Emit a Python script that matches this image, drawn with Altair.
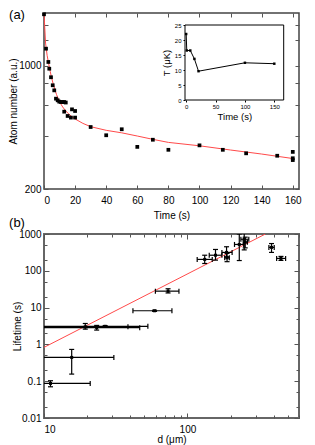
import altair as alt
import pandas as pd

FONT = "Liberation Sans"
FRAME = "#555555"
W = 255
H1 = 176
H2 = 184

# ---------------- (a) atom number vs time ----------------
time_s = [0, 1.3, 2.8, 3.4, 4.5, 5.6, 6.6, 7.7, 8.8, 9.8, 10.9, 12, 13, 14,
          13, 18, 20, 15.2, 17.3, 20, 30, 40, 50, 60, 70, 80, 100, 115, 130,
          150, 160, 160, 160]
atoms = [1967, 1254, 1054, 965, 863, 777, 727, 652, 638, 627, 624, 624, 624, 620,
         550, 567, 555, 520, 509, 509, 450, 404, 437, 347, 381, 334, 354, 334, 319,
         309, 325, 299, 292]

fit_t = [0, 1, 2, 3, 4, 5, 6, 8, 10, 12, 14, 16, 18, 20, 25, 30, 40, 50, 60,
         70, 80, 100, 120, 140, 160]
fit_n = [2000, 1350, 1150, 1030, 930, 850, 785, 690, 625, 585, 555, 533, 514,
         500, 472, 452, 431, 417, 400, 383, 368, 352, 333, 316, 298]

a_x_ticks = [0, 20, 40, 60, 80, 100, 120, 140, 160]
a_y_ticks = [200, 400, 600, 800, 1000, 1400, 1700]

# inset: temperature vs time
inset_t = [0, 1, 7, 14, 21, 100, 150]
inset_T = [22, 16.5, 16.5, 13.7, 9.6, 12.4, 12.1]
inset_x_dom = [-2, 166]
inset_y_dom = [0, 25]
inset_x_ticks = [0, 50, 100, 150]
inset_y_ticks = [0, 5, 10, 15, 20, 25]

# ---------------- (b) lifetime vs distance ----------------
d_um = [11.1, 15.6, 19.4, 23.3, 26.7, 59, 73.3, 132, 157, 187.5, 189, 230, 249, 253, 386, 449]
life_s = [0.087, 0.443, 3.0, 2.85, 3.1, 8.2, 28, 204, 265, 316, 226, 520, 720, 600, 433, 217]
d_lo = [1.2, 0.5, 0.3, 0.1, 0.4, 41.7, 59.8, 117, 142, 174, 182, 213, 236, 245, 370, 419]
d_hi = [21, 30.7, 38.5, 46.5, 53, 78, 87.3, 149, 174, 205, 196, 247, 268, 262, 403, 484]
life_lo = [0.0705, 0.156, 2.6, 2.45, 2.95, 7.9, 25, 158, 195, 240, 177, 190, 370, 420, 316, 192]
life_hi = [0.103, 0.73, 3.7, 3.28, 3.25, 8.5, 32.5, 265, 380, 450, 296, 1000, 1090, 820, 550, 246]

fit_d = [10, 350]
fit_life = [0.83, 1000]

b_x_ticks = [10, 20, 30, 40, 50, 60, 70, 80, 90, 100, 200, 300, 400, 500, 600]
b_y_ticks = [0.01, 0.02, 0.05, 0.1, 0.2, 0.5, 1, 2, 5, 10, 20, 50, 100, 200, 500, 1000]


def dash(length, span):
    return [length, span - 2 * length, length, 2000]


# ---------- panel (a) ----------
df_a = pd.DataFrame({"t": time_s, "n": atoms})
df_fit = pd.DataFrame({"t": fit_t, "n": fit_n})

ax_a_x = alt.Axis(title="Time (s)", values=a_x_ticks, format="d", grid=True,
                  gridDash=dash(4, H1), gridColor=FRAME, gridWidth=1, gridOpacity=1,
                  ticks=False, tickSize=0, domain=False, labelPadding=6, titlePadding=5)
ax_a_y = alt.Axis(title="Atom number (a.u.)", values=a_y_ticks, format="d",
                  labelExpr="datum.value == 200 || datum.value == 1000 ? datum.label : ''",
                  grid=True, gridDash=dash(4, W), gridColor=FRAME, gridWidth=1, gridOpacity=1,
                  ticks=False, tickSize=0, domain=False, labelPadding=3, titlePadding=0)
sx_a = alt.Scale(domain=[0, 164], nice=False, zero=False)
sy_a = alt.Scale(type="log", domain=[200, 2000], nice=False)

curve_a = alt.Chart(df_fit).mark_line(color="#ff4a4a", strokeWidth=1).encode(
    x=alt.X("t:Q", scale=sx_a, axis=ax_a_x),
    y=alt.Y("n:Q", scale=sy_a, axis=ax_a_y),
)
pts_a = alt.Chart(df_a).mark_square(color="black", size=14, opacity=1).encode(
    x=alt.X("t:Q", scale=sx_a, axis=ax_a_x),
    y=alt.Y("n:Q", scale=sy_a, axis=ax_a_y),
)
main_a = alt.layer(curve_a, pts_a)

# inset
sx_i = alt.Scale(domain=inset_x_dom, range=[141, 239.7], nice=False, zero=False)
sy_i = alt.Scale(domain=inset_y_dom, range=[87, 12], nice=False, zero=False)
ax_i_x = alt.Axis(orient="bottom", offset=-89, title="Time (s)", values=inset_x_ticks,
                  format="d", labelFontSize=6, titleFontSize=9.5, ticks=True, tickSize=2,
                  tickColor="black", grid=False, domain=False, labelPadding=1, titlePadding=2)
ax_i_y = alt.Axis(orient="left", offset=-141, title="T (μK)", values=inset_y_ticks,
                  format="d", labelFontSize=6, titleFontSize=9.5, ticks=True, tickSize=2,
                  tickColor="black", grid=False, domain=False, labelPadding=2, titlePadding=3)

df_box = pd.DataFrame({"x0": [inset_x_dom[0]], "x1": [inset_x_dom[1]],
                       "y0": [inset_y_dom[0]], "y1": [inset_y_dom[1]]})
df_in = pd.DataFrame({"ti": inset_t, "T": inset_T})

box = alt.Chart(df_box).mark_rect(fill="white", stroke="black", strokeWidth=1).encode(
    x=alt.X("x0:Q", scale=sx_i, axis=ax_i_x), x2="x1:Q",
    y=alt.Y("y0:Q", scale=sy_i, axis=ax_i_y), y2="y1:Q",
)
line_i = alt.Chart(df_in).mark_line(color="black", strokeWidth=1).encode(
    x=alt.X("ti:Q", scale=sx_i, axis=ax_i_x),
    y=alt.Y("T:Q", scale=sy_i, axis=ax_i_y),
)
pts_i = alt.Chart(df_in).mark_square(color="black", size=6, opacity=1).encode(
    x=alt.X("ti:Q", scale=sx_i, axis=ax_i_x),
    y=alt.Y("T:Q", scale=sy_i, axis=ax_i_y),
)
inset = alt.layer(box, line_i, pts_i)

lab_a = alt.Chart(pd.DataFrame({"lab": ["(a)"]})).mark_text(
    fontSize=13, font=FONT, color="black", align="center", baseline="middle").encode(
    text="lab:N", x=alt.value(-27), y=alt.value(2))
lab_b = alt.Chart(pd.DataFrame({"lab": ["(b)"]})).mark_text(
    fontSize=13, font=FONT, color="black", align="center", baseline="middle").encode(
    text="lab:N", x=alt.value(-27), y=alt.value(210))

top = alt.layer(main_a, inset, lab_a, lab_b).resolve_scale(
    x="independent", y="independent").properties(
    width=W, height=H1, view=alt.ViewBackground(stroke="#444444", strokeWidth=1.5))

# ---------- panel (b) ----------
df_b = pd.DataFrame({"d": d_um, "life": life_s, "d_lo": d_lo, "d_hi": d_hi,
                     "life_lo": life_lo, "life_hi": life_hi})
df_bfit = pd.DataFrame({"d": fit_d, "life": fit_life})

decade = "abs(log(datum.value)/LN10 - round(log(datum.value)/LN10)) < 0.001"
ax_b_x = alt.Axis(title="d (μm)", values=b_x_ticks, format="d",
                  labelExpr="datum.value == 10 || datum.value == 100 ? datum.label : ''",
                  grid=True,
                  gridDash={"condition": {"test": "datum.value == 10 || datum.value == 100",
                                          "value": dash(5, H2)},
                            "value": dash(3, H2)},
                  gridColor=FRAME, gridWidth=1, gridOpacity=1,
                  ticks=False, tickSize=0, domain=False, labelPadding=6, titlePadding=0)
ax_b_y = alt.Axis(title="Lifetime (s)", values=b_y_ticks, format="~g",
                  labelExpr=decade + " ? datum.label : ''",
                  grid=True,
                  gridDash={"condition": {"test": decade, "value": dash(5, W)},
                            "value": dash(3, W)},
                  gridColor=FRAME, gridWidth=1, gridOpacity=1,
                  ticks=False, tickSize=0, domain=False, labelPadding=3, titlePadding=1,
                  titleX=-22)
sx_b = alt.Scale(type="log", domain=[10, 600], nice=False)
sy_b = alt.Scale(type="log", domain=[0.01, 1000], nice=False)


def bx(f):
    return alt.X(f, type="quantitative", scale=sx_b, axis=ax_b_x)


def by(f):
    return alt.Y(f, type="quantitative", scale=sy_b, axis=ax_b_y)


fit_b = alt.Chart(df_bfit).mark_line(color="#ff4a4a", strokeWidth=1, clip=True).encode(
    x=bx("d"), y=by("life"))
xbar = alt.Chart(df_b).mark_rule(color="black", strokeWidth=1.2, clip=True).encode(
    x=bx("d_lo"), x2="d_hi:Q", y=by("life"))
xcap_lo = alt.Chart(df_b).mark_tick(orient="vertical", size=5, thickness=1.2,
                                    color="black", opacity=1, clip=True).encode(
    x=bx("d_lo"), y=by("life"))
xcap_hi = alt.Chart(df_b).mark_tick(orient="vertical", size=5, thickness=1.2,
                                    color="black", opacity=1, clip=True).encode(
    x=bx("d_hi"), y=by("life"))
ybar = alt.Chart(df_b).mark_rule(color="black", strokeWidth=1.2, clip=True).encode(
    x=bx("d"), y=by("life_lo"), y2="life_hi:Q")
ycap_lo = alt.Chart(df_b).mark_tick(orient="horizontal", size=5, thickness=1.2,
                                    color="black", opacity=1, clip=True).encode(
    x=bx("d"), y=by("life_lo"))
ycap_hi = alt.Chart(df_b).mark_tick(orient="horizontal", size=5, thickness=1.2,
                                    color="black", opacity=1, clip=True).encode(
    x=bx("d"), y=by("life_hi"))
pts_b = alt.Chart(df_b).mark_square(color="black", size=9, opacity=1, clip=True).encode(
    x=bx("d"), y=by("life"))

bottom = alt.layer(fit_b, xbar, xcap_lo, xcap_hi, ybar, ycap_lo, ycap_hi, pts_b).properties(
    width=W, height=H2, view=alt.ViewBackground(stroke="#666666", strokeWidth=2))

chart = alt.vconcat(top, bottom, spacing=-3).properties(
    padding={"left": 0, "top": 0, "right": 5, "bottom": 0}
).configure(font=FONT).configure_axis(
    labelFont=FONT, titleFont=FONT, labelFontSize=10, titleFontSize=10,
    labelColor="black", titleColor="black", titleFontWeight="normal"
).configure_view(stroke="#444444")

chart.save("out.html", embed_options={"renderer": "svg", "actions": False})
